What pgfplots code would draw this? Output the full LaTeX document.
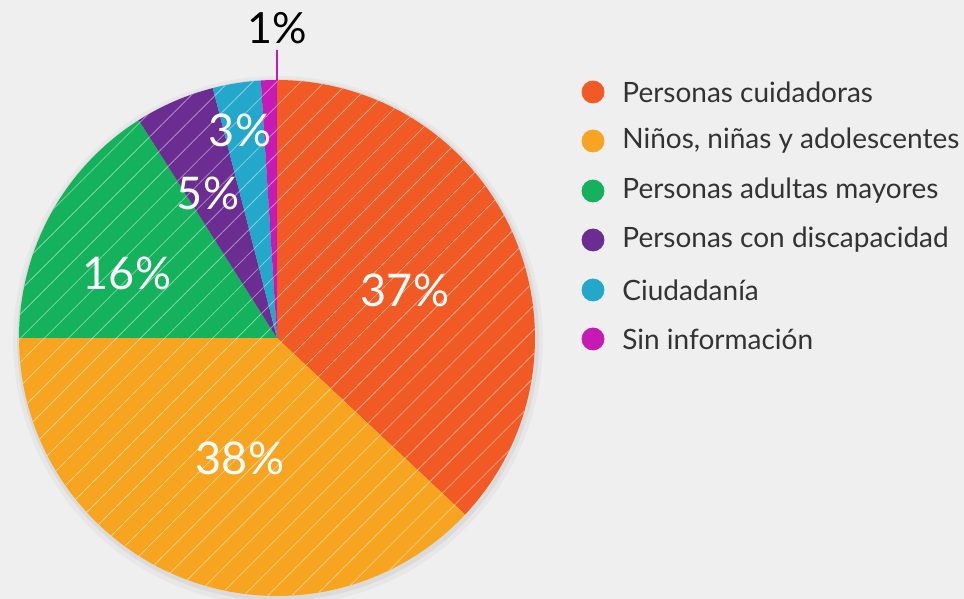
\documentclass[border=0pt]{standalone}
\usepackage{pgfplots}
\pgfplotsset{compat=1.18}
\usetikzlibrary{patterns.meta}
\usepackage{fontspec}
\setmainfont{Lato}
\definecolor{bg}{HTML}{EFEFEF}
\definecolor{cOrange}{HTML}{F15A24}
\definecolor{cYellow}{HTML}{F7A520}
\definecolor{cGreen}{HTML}{14B25C}
\definecolor{cPurple}{HTML}{6B2D92}
\definecolor{cCyan}{HTML}{23A8CB}
\definecolor{cMagenta}{HTML}{C51BB4}
\definecolor{txt}{HTML}{333333}
% pie centre and radius in pixel units
\newcommand{\cx}{277}
\newcommand{\cy}{261}
\newcommand{\rr}{258}
% #1 = cumulative percent before the slice, #2 = slice percent, #3 = colour
\newcommand{\pieslice}[3]{%
  \addplot[fill=#3, draw=none, domain={90-3.6*(#1+#2)}:{90-3.6*(#1)}, samples=80,
    postaction={pattern={Lines[angle=45,distance=8.5pt,line width=0.4pt]}, pattern color=#3!55!white}]
    ({\cx+\rr*cos(x)},{\cy+\rr*sin(x)}) -- (axis cs:\cx,\cy) -- cycle;
}
\begin{document}
\begin{tikzpicture}
\begin{axis}[
  width=482pt, height=299.5pt, scale only axis,
  xmin=0, xmax=964, ymin=0, ymax=599,
  hide axis, clip=true,
]
\fill[bg] (rel axis cs:0,0) rectangle (rel axis cs:1,1);
% soft shadow
\addplot[fill=black, fill opacity=0.03, draw=none, domain=0:360, samples=120] ({\cx+1+(\rr+7)*cos(x)},{\cy-3+(\rr+7)*sin(x)});
\addplot[fill=black, fill opacity=0.05, draw=none, domain=0:360, samples=120] ({\cx+1+(\rr+3)*cos(x)},{\cy-2+(\rr+3)*sin(x)});
% slices: Personas cuidadoras 37, Niños 38, Adultas mayores 16, Discapacidad 5, Ciudadanía 3, Sin información 1
\pieslice{0}{37}{cOrange}
\pieslice{37}{38}{cYellow}
\pieslice{75}{16}{cGreen}
\pieslice{91}{5}{cPurple}
\pieslice{96}{3}{cCyan}
\pieslice{99}{1}{cMagenta}
% leader line for 1%
\addplot[cMagenta, line width=1.2pt] coordinates {(277,549) (277,518)};
% labels
\node[font=\fontsize{21.5}{24}\selectfont, text=black] at (axis cs:277,571) {1\%};
\begin{scope}[every node/.style={text=white, font=\fontsize{22.5}{26}\selectfont}]
\node at (axis cs:240,469) {3\%};
\node at (axis cs:208,406) {5\%};
\node at (axis cs:127,326) {16\%};
\node at (axis cs:405,309) {37\%};
\node at (axis cs:240,141) {38\%};
\end{scope}
% legend markers
\addplot[only marks, mark=*, mark size=5.5pt, cOrange] coordinates {(593,507)};
\addplot[only marks, mark=*, mark size=5.5pt, cYellow] coordinates {(593,458)};
\addplot[only marks, mark=*, mark size=5.5pt, cGreen] coordinates {(593,408)};
\addplot[only marks, mark=*, mark size=5.5pt, cPurple] coordinates {(593,359)};
\addplot[only marks, mark=*, mark size=5.5pt, cCyan] coordinates {(593,309)};
\addplot[only marks, mark=*, mark size=5.5pt, cMagenta] coordinates {(593,260)};
\begin{scope}[every node/.style={anchor=west, inner sep=0pt, text=txt, font=\fontsize{14}{16}\selectfont}]
\node at (axis cs:622,507) {Personas cuidadoras};
\node at (axis cs:622,458) {Niños, niñas y adolescentes};
\node at (axis cs:622,408) {Personas adultas mayores};
\node at (axis cs:622,359) {Personas con discapacidad};
\node at (axis cs:622,309) {Ciudadanía};
\node at (axis cs:622,260) {Sin información};
\end{scope}
\end{axis}
\end{tikzpicture}
\end{document}
